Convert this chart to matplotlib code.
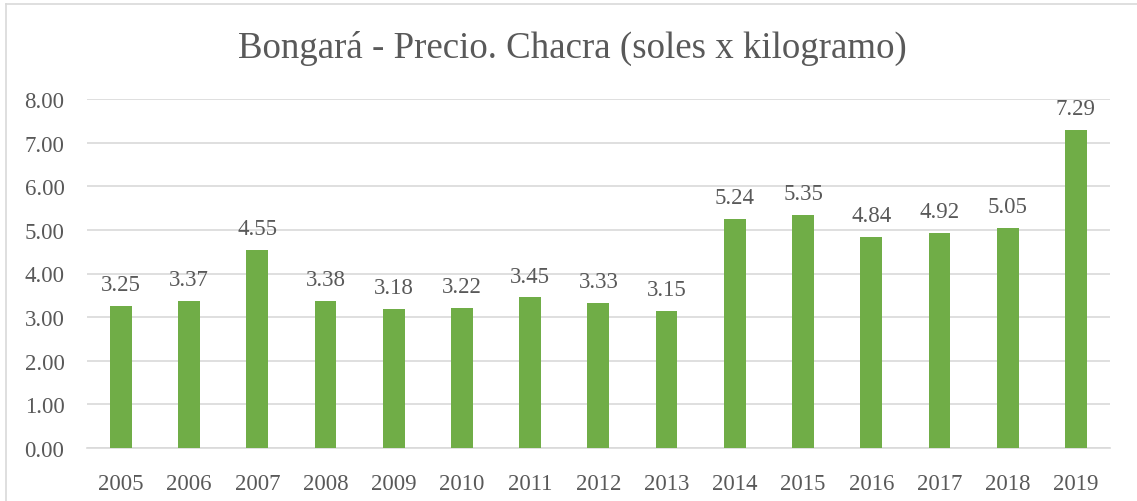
import matplotlib.pyplot as plt
from matplotlib.lines import Line2D

years = ["2005", "2006", "2007", "2008", "2009", "2010", "2011", "2012",
         "2013", "2014", "2015", "2016", "2017", "2018", "2019"]
precio = [3.25, 3.37, 4.55, 3.38, 3.18, 3.22, 3.45, 3.33,
          3.15, 5.24, 5.35, 4.84, 4.92, 5.05, 7.29]

plt.rcParams['font.family'] = ['Liberation Serif', 'DejaVu Serif']
gris = '#595959'

fig = plt.figure(figsize=(11.37, 5.02), dpi=100)
# plot area: x 86.7..1110 px, y 0 at 449 px, 8 at 100 px
ax = fig.add_axes([86.7 / 1137, 1 - 449 / 502, 1023.3 / 1137, 349 / 502])

x = list(range(len(years)))
ax.bar(x, precio, width=0.32, color='#70AD47', zorder=3)
for xi, v in zip(x, precio):
    ax.annotate(f"{v:.2f}", (xi, v), xytext=(0, 11.5), textcoords='offset points',
                ha='center', va='baseline', fontsize=16.5, color=gris)

ax.set_xlim(-0.5, len(years) - 0.5)
ax.set_ylim(0, 8)
ax.set_yticks(range(9))
ax.set_yticklabels([f"{i:.2f}" for i in range(9)])
ax.set_xticks(x)
ax.set_xticklabels(years)
ax.tick_params(axis='both', length=0, labelsize=16.5, colors=gris)
ax.tick_params(axis='y', pad=16)
ax.tick_params(axis='x', pad=18)
ax.grid(axis='y', color='#D9D9D9', linewidth=1.2, zorder=0)
for s in ['top', 'right', 'left']:
    ax.spines[s].set_visible(False)
ax.spines['bottom'].set_color('#D9D9D9')
ax.spines['bottom'].set_linewidth(1.2)

fig.text(572 / 1137, 1 - 58 / 502, "Bongará - Precio. Chacra (soles x kilogramo)",
         ha='center', va='baseline', fontsize=26.6, color=gris)

# chart border (only left and top edges are inside the picture)
fig.add_artist(Line2D([6 / 1137, 6 / 1137], [0, 1 - 4.5 / 502], transform=fig.transFigure,
                      color='#D9D9D9', linewidth=1.2))
fig.add_artist(Line2D([6 / 1137, 1], [1 - 4.5 / 502, 1 - 4.5 / 502], transform=fig.transFigure,
                      color='#D9D9D9', linewidth=1.2))

fig.savefig("out.png", dpi=100)
